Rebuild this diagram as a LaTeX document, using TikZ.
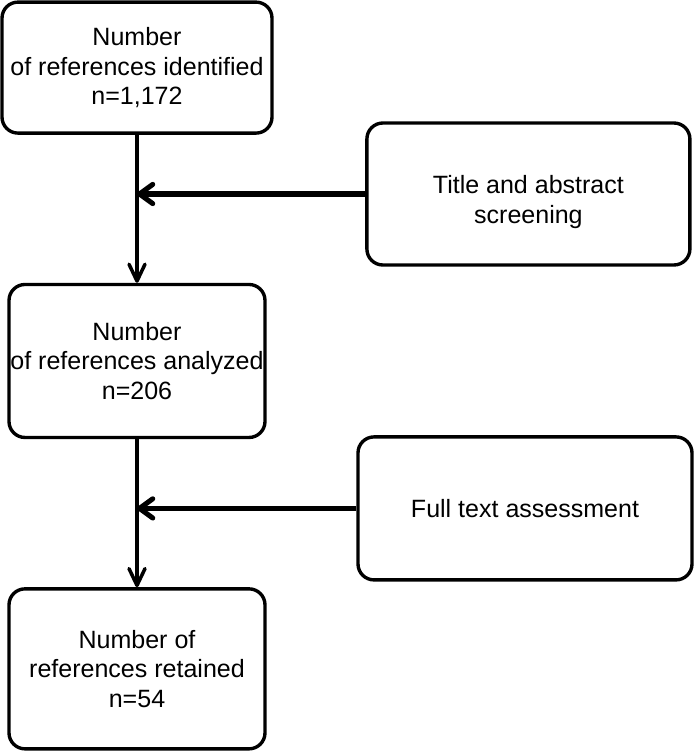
\documentclass[tikz,border=0pt]{standalone}
\usepackage{fontspec}
\setmainfont{Liberation Sans}
\usetikzlibrary{arrows.meta}
\usetikzlibrary{positioning}

\begin{document}
\begin{tikzpicture}[
	box/.style={draw, line width=2.4pt, rounded corners=0.4cm, align=center, inner sep=0pt,
		font=\fontsize{17.8pt}{21pt}\selectfont},
	down/.style={line width=2.5pt, -{Straight Barb[length=0.42cm, width=0.4cm, round]}},
	side/.style={line width=3.6pt, -{Straight Barb[length=0.33cm, width=0.48cm, round]}}]
	%\draw [help lines, blue] (0,0) grid (17.375,-18.875);
	\useasboundingbox (0,0) rectangle (17.375,-18.875);

	%Left column

	\node (identified) [box, minimum width=6.75cm, minimum height=3.275cm] at (3.425,-1.69) {Number\\of references identified\\n=1,172};

	\node (analyzed) [box, minimum width=6.4cm, minimum height=3.825cm, below=3.7cm of identified] {Number\\of references analyzed\\n=206};

	\node (retained) [box, minimum width=6.4cm, minimum height=4cm, below=3.7cm of analyzed] {Number of\\references retained\\n=54};

	%Right column

	\node (screening) [box, minimum width=8.075cm, minimum height=3.55cm] at (13.21,-4.85) {\rule{0pt}{0.85cm}Title and abstract\\screening};

	\node (fulltext) [box, minimum width=8.35cm, minimum height=3.575cm] at (13.125,-12.71) {Full text assessment};

	%Arrows

	\coordinate (join1) at (identified.south |- screening.west);
	\coordinate (join2) at (analyzed.south |- fulltext.west);

	\draw [down] (identified) -- (analyzed);
	\draw [down] (analyzed) -- (retained);
	\draw [side] (screening) -- (join1);
	\draw [side] (fulltext) -- (join2);
\end{tikzpicture}
\end{document}
